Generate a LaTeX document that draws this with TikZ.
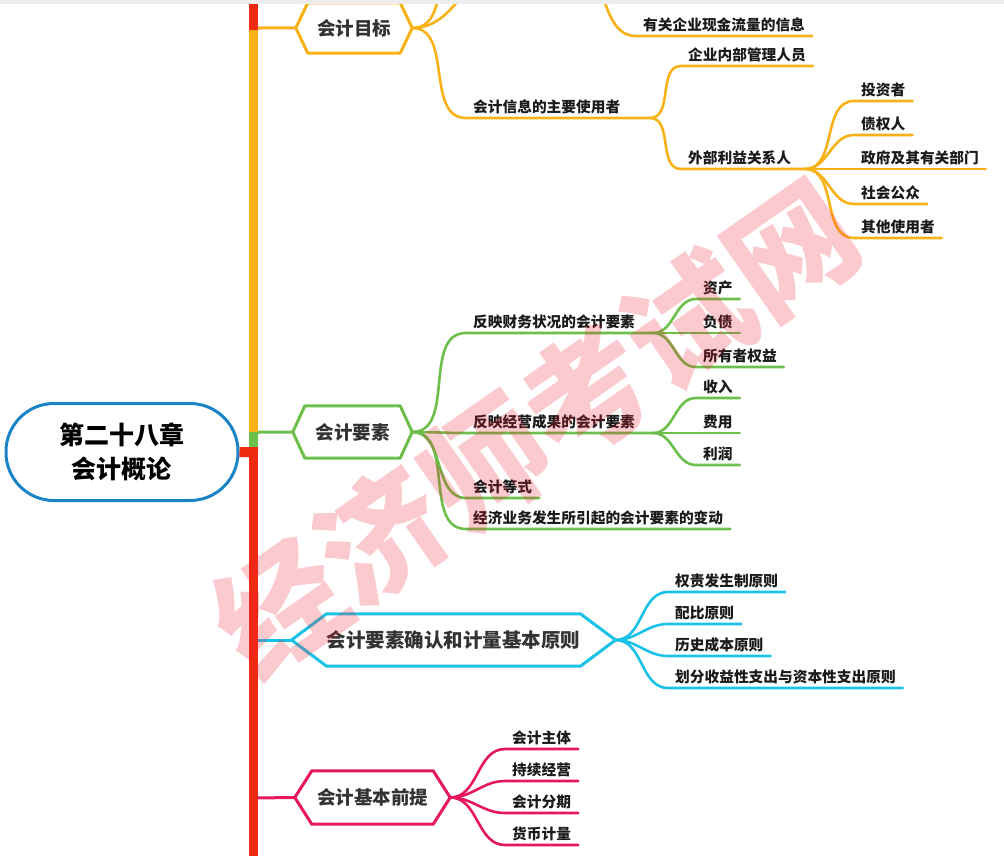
\documentclass[tikz,border=0pt]{standalone}
\usepackage{fontspec}
\setmainfont{Noto Sans CJK SC}
\definecolor{cO}{HTML}{F8B217}
\definecolor{cG}{HTML}{6CBF4A}
\definecolor{cB}{HTML}{1BC2E8}
\definecolor{cC}{HTML}{E6175B}
\definecolor{cR}{HTML}{EE2A10}
\definecolor{cRoot}{HTML}{1A84C6}
\definecolor{wm}{HTML}{F01E2C}
\definecolor{tx}{HTML}{1A1A1A}
\definecolor{hx}{HTML}{333333}
\newcommand\hexframe[3]{%
  \draw[line width=3pt,#3,line join=round] ([xshift=-#2pt]#1.west) -- (#1.north west) -- (#1.north east) -- ([xshift=#2pt]#1.east) -- (#1.south east) -- (#1.south west) -- cycle;
  \coordinate (#1-w) at ([xshift=-#2pt]#1.west);
  \coordinate (#1-e) at ([xshift=#2pt]#1.east);}
\begin{document}
\begin{tikzpicture}[x=1pt,y=-1pt,
  leaf/.style={anchor=south west, inner xsep=7pt, inner ysep=3.5pt, font=\fontsize{14.7}{16}\selectfont\bfseries, text=tx},
  hexn/.style={inner sep=0pt, font=\fontsize{18.5}{20}\selectfont\bfseries, text=hx},
  br/.style={line width=2.6pt, line cap=round},
  ]
\useasboundingbox (0,0) rectangle (1004,856);
\fill[white] (0,0) rectangle (1004,856);

% root
\node[draw=cRoot, line width=3pt, rounded corners=48pt, minimum width=232pt, minimum height=97pt, align=center, font=\fontsize{25}{34}\selectfont\bfseries, text=black] (root) at (122,452) {第二十八章\\会计概论};

% hexagons
\node[hexn, minimum width=92pt, minimum height=50pt] (mubiao) at (354,28) {会计目标};
\hexframe{mubiao}{12}{cO}
\node[hexn, minimum width=95pt, minimum height=52pt] (yaosu) at (352.5,432) {会计要素};
\hexframe{yaosu}{12}{cG}
\node[hexn, minimum width=247pt, minimum height=52pt, font=\fontsize{19.5}{22}\selectfont\bfseries] (queren) at (453.5,640) {会计要素确认和计量基本原则};
\hexframe{queren}{35}{cB}
\node[hexn, minimum width=121pt, minimum height=53pt] (qianti) at (372.5,797.5) {会计基本前提};
\hexframe{qianti}{17}{cC}

% spine connections
\draw[cO, line width=3pt, rounded corners=9pt] (251,60) |- (mubiao-w);
\draw[cG, line width=3pt, rounded corners=9pt] (251,450) |- (yaosu-w);
\draw[cB, line width=3pt] (253.5,640) -- (queren-w);
\draw[cC, line width=3pt] (253.5,798) -- (qianti-w);
\draw[cR, line width=9pt] (253.5,0) -- (253.5,32);
\draw[cO, line width=9pt] (253.5,30) -- (253.5,436);
\draw[cG, line width=9pt] (253.5,432) -- (253.5,450);
\draw[cR, line width=9pt] (253.5,447) -- (253.5,856);
\draw[cR, line width=10pt] (root.east) -- (258,452.5);

% ---------- orange branch ----------
\coordinate (up1) at (470,-70);
\coordinate (up2) at (515,-40);
\draw[br,cO] (mubiao-e) to[out=0,in=180] (up1);
\draw[br,cO] (mubiao-e) to[out=0,in=180] (up2);
\coordinate (xjtop) at (572,-35);
\node[leaf] (xjl) at (636,36) {有关企业现金流量的信息};
\draw[br,cO] (xjtop) to[out=0,in=180] (xjl.south west) -- (xjl.south east);

\node[leaf] (users) at (466,118) {会计信息的主要使用者};
\coordinate (jusers) at (650,118);
\draw[br,cO] (mubiao-e) to[out=0,in=180] (users.south west) -- (jusers);
\node[leaf] (neibu) at (681,66) {企业内部管理人员};
\draw[br,cO] (jusers) to[out=0,in=180] (neibu.south west) -- (neibu.south east);
\node[leaf] (waibu) at (681,169) {外部利益关系人};
\coordinate (jwaibu) at (805,169);
\draw[br,cO] (jusers) to[out=0,in=180] (waibu.south west) -- (jwaibu);
\foreach \n/\y/\t in {tz/101/投资者, zq/135/债权人, zf/169/政府及其有关部门, sh/204/社会公众, qt/238/其他使用者}{
  \node[leaf] (\n) at (854,\y) {\t};
  \draw[br,cO] (jwaibu) to[out=0,in=180] (\n.south west) -- (\n.south east);
}

% ---------- green branch ----------
\node[leaf] (caiwu) at (466,333) {反映财务状况的会计要素};
\coordinate (jcaiwu) at (653,333);
\draw[br,cG] (yaosu-e) to[out=0,in=180] (caiwu.south west) -- (jcaiwu);
\foreach \n/\y/\t in {zc/299/资产, fz/333/负债, sy/367/所有者权益}{
  \node[leaf] (\n) at (696,\y) {\t};
  \draw[br,cG] (jcaiwu) to[out=0,in=180] (\n.south west) -- (\n.south east);
}
\node[leaf] (jingying) at (466,433) {反映经营成果的会计要素};
\coordinate (jjingying) at (653,433);
\draw[br,cG] (yaosu-e) to[out=0,in=180] (jingying.south west) -- (jjingying);
\foreach \n/\y/\t in {sr/398/收入, fy/433/费用, lr/465/利润}{
  \node[leaf] (\n) at (696,\y) {\t};
  \draw[br,cG] (jjingying) to[out=0,in=180] (\n.south west) -- (\n.south east);
}
\node[leaf] (dengshi) at (466,498) {会计等式};
\draw[br,cG] (yaosu-e) to[out=0,in=180] (dengshi.south west) -- (dengshi.south east);
\node[leaf] (biandong) at (466,529) {经济业务发生所引起的会计要素的变动};
\draw[br,cG] (yaosu-e) to[out=0,in=180] (biandong.south west) -- (biandong.south east);

% ---------- blue branch ----------
\foreach \n/\y/\t in {qz/592/权责发生制原则, pb/624/配比原则, ls/656/历史成本原则, hf/688/划分收益性支出与资本性支出原则}{
  \node[leaf] (\n) at (668,\y) {\t};
  \draw[br,cB] (queren-e) to[out=0,in=180] (\n.south west) -- (\n.south east);
}

% ---------- crimson branch ----------
\foreach \n/\y/\t in {zt/749/会计主体, cx/781/持续经营, fq/813/会计分期, hb/845/货币计量}{
  \node[leaf] (\n) at (505,\y) {\t};
  \draw[br,cC] (qianti-e) to[out=0,in=180] (\n.south west) -- (\n.south east);
}

% watermark
\node[rotate=35, text=wm, text opacity=0.23, font=\fontsize{125}{125}\selectfont\bfseries, inner sep=0pt] (wmark) at (535,428) {经济师考试网};

% top band
\fill[black!7] (0,0) rectangle (1004,4);
\end{tikzpicture}
\end{document}
